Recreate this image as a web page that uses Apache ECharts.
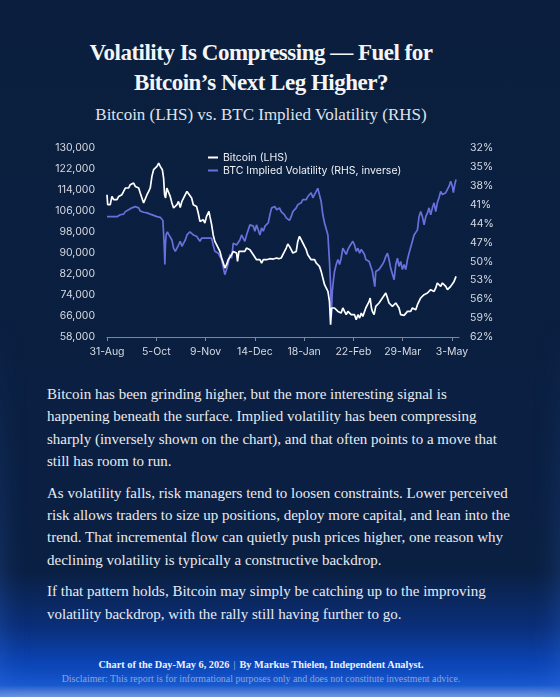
<!DOCTYPE html>
<html>
<head>
<meta charset="utf-8">
<script src="https://cdn.jsdelivr.net/npm/echarts@6/dist/echarts.min.js"></script>
<style>
  html, body { margin: 0; padding: 0; }
  body {
    width: 560px; height: 697px; overflow: hidden; position: relative;
    background: linear-gradient(180deg, #0b1e3d 0%, #0a2043 82%, #0a2f7a 90%, #0b44b4 95%, #1656cc 98.3%, #7d9fe0 100%);
    font-family: "Liberation Serif", serif;
  }
  .glow { position: absolute; left: 0; top: 0; width: 560px; height: 697px;
    box-shadow: inset 0 0 28px rgba(55, 115, 225, 0.45);
    -webkit-mask-image: linear-gradient(to bottom, rgba(0,0,0,0) 45%, rgba(0,0,0,1) 100%);
    mask-image: linear-gradient(to bottom, rgba(0,0,0,0) 45%, rgba(0,0,0,1) 100%); }
  .title { position: absolute; left: 0; width: 522px; top: 38px; text-align: center;
    color: #f4f5f7; font-size: 23px; line-height: 30px; font-weight: bold; letter-spacing: -0.5px; }
  .subtitle { position: absolute; left: 0; width: 522px; top: 104px; text-align: center;
    color: #dfe3ea; font-size: 17px; line-height: 22px; }
  #chart { position: absolute; left: 0; top: 130px; width: 560px; height: 240px; }
  .body { position: absolute; left: 47px; top: 383px; color: #e9ebef; font-size: 15px; line-height: 22.3px; white-space: nowrap; }
  .body p { margin: 0 0 9.5px 0; }
  .foot { position: absolute; left: 0; width: 522px; top: 658px; text-align: center;
    color: #eef1f7; font-size: 10.3px; line-height: 14px; font-weight: bold; }
  .foot .sep { font-weight: normal; color: #b8c4dc; padding: 0 4px; }
  .disc { position: absolute; left: 0; width: 522px; top: 672px; text-align: center;
    color: #8ea6d8; font-size: 9.9px; line-height: 13px; }
</style>
</head>
<body>
<div class="glow"></div>
<div class="title">Volatility Is Compressing — Fuel for<br>Bitcoin’s Next Leg Higher?</div>
<div class="subtitle">Bitcoin (LHS) vs. BTC Implied Volatility (RHS)</div>
<div id="chart"></div>
<div class="body">
  <p>Bitcoin has been grinding higher, but the more interesting signal is<br>
  happening beneath the surface. Implied volatility has been compressing<br>
  sharply (inversely shown on the chart), and that often points to a move that<br>
  still has room to run.</p>
  <p>As volatility falls, risk managers tend to loosen constraints. Lower perceived<br>
  risk allows traders to size up positions, deploy more capital, and lean into the<br>
  trend. That incremental flow can quietly push prices higher, one reason why<br>
  declining volatility is typically a constructive backdrop.</p>
  <p>If that pattern holds, Bitcoin may simply be catching up to the improving<br>
  volatility backdrop, with the rally still having further to go.</p>
</div>
<div class="foot">Chart of the Day-May 6, 2026<span class="sep">|</span>By Markus Thielen, Independent Analyst.</div>
<div class="disc">Disclaimer: This report is for informational purposes only and does not constitute investment advice.</div>

<script>
// days since 31-Aug-2025
var xTickLabels = ['31-Aug', '5-Oct', '9-Nov', '14-Dec', '18-Jan', '22-Feb', '29-Mar', '3-May'];
var xTickDays = [0, 35, 70, 105, 140, 175, 210, 245];

var btcDays = [0, 0.5, 2.3, 3.5, 4.7, 5.9, 7.1, 8.3, 9.4, 10.6, 11.8, 13, 14.2, 15.4, 16.5, 17.7, 18.9, 20.1, 21.3, 22.5,
  23.6, 24.8, 26, 27.2, 28.4, 29.6, 30.7, 31.9, 33.1, 34.3, 35.5, 36.7, 37.4, 37.8, 38.5, 39.3, 40.2, 40.9, 41.6, 42.5,
  43.7, 44.9, 46.1, 47.3, 48.5, 49.7, 50.8, 52, 53.2, 54.4, 55.6, 56.8, 58, 60.1, 61.3, 62.4, 63.6, 64.8, 66, 67.2,
  68.3, 69.5, 70.7, 72.4, 73.1, 74.3, 75.4, 76.6, 77.8, 79, 80.2, 81.4, 82.6, 83.7, 84.9, 86.1, 87.3, 88.5, 89.7, 90.9,
  92, 92.7, 93.7, 94.4, 95.6, 96.7, 97.9, 99.1, 100.3, 101.5, 102.7, 103.9, 105, 106.2, 107.4, 108.6, 109.8, 111, 112.2, 113.3,
  114.5, 115.7, 116.9, 118.1, 119.3, 120.5, 122, 123.7, 124.9, 126.1, 127.3, 128.4, 129.6, 130.8, 132, 133.2, 134.4, 135.5, 136.7, 137.9,
  139.1, 140.3, 141.5, 142.6, 143.8, 145, 146.2, 147.4, 148.6, 149.7, 150.9, 152.1, 153.3, 154.5, 155.7, 156.9, 158, 158.8, 159.5, 160.4,
  161.6, 162.8, 164, 165.2, 166.3, 167.5, 168.7, 169.9, 171.1, 172.3, 173.4, 174.6, 175.8, 177, 178.2, 179.4, 180.6, 181.7, 182.6, 183.8,
  185, 186.2, 186.9, 187.8, 188.5, 189.7, 190.9, 192.1, 193.2, 194.4, 195.6, 196.8, 198, 199.2, 200.3, 201.5, 202.7, 203.9, 205.1, 206.3,
  207.4, 208.6, 209.8, 211, 212.2, 213.4, 214.5, 215.7, 216.9, 218.1, 219.3, 220.5, 221.6, 222.8, 224, 225.2, 226.4, 227.6, 228.7, 229.9,
  231.1, 232.3, 233.5, 234.6, 235.8, 237, 238.2, 239.4, 240.6, 241.8, 242.9, 244.1, 245.3, 246.5, 247.9];
var btcPrice = [112200, 108400, 108400, 111560, 110300, 110950, 110300, 111560, 110950, 112200, 113470, 114760, 115370, 114760, 116020, 115370, 116650, 115370, 116020, 114760,
  112860, 110950, 109050, 109660, 112200, 113470, 114760, 119190, 121730, 122380, 123000, 124280, 124900, 123000, 123650, 121730, 118570, 112200, 110950, 114760,
  114130, 111560, 109050, 107140, 106500, 108400, 109660, 107370, 109660, 110300, 112200, 113470, 114130, 110950, 108400, 109050, 107760, 105240, 102040, 101430,
  102690, 101430, 103940, 105850, 103940, 100780, 96970, 94420, 93160, 92510, 90610, 88100, 86190, 84290, 85540, 87450, 88100, 89350, 90610, 91260,
  90000, 86800, 90610, 90000, 90610, 91260, 90610, 91900, 91900, 91260, 90610, 89350, 88700, 87450, 86800, 87450, 86190, 87450, 88100, 87450,
  87450, 87830, 87450, 87700, 87450, 88100, 87800, 88100, 88700, 90610, 91900, 93430, 92510, 91260, 90000, 89350, 90610, 94420, 96330, 95070,
  93810, 92510, 91260, 89350, 88700, 87450, 86800, 87450, 86190, 85540, 84900, 83000, 80480, 77920, 77280, 75370, 71560, 62690, 69050, 69660,
  69050, 69660, 67750, 68400, 67140, 69050, 67750, 66500, 67750, 68400, 66500, 67140, 66500, 64590, 66500, 65240, 67140, 65850, 66500, 69050,
  68400, 71560, 72860, 69050, 67750, 66500, 69660, 70300, 70950, 71560, 72860, 73470, 74760, 72860, 70950, 71560, 69660, 69050, 70950, 70300,
  69050, 66500, 65850, 66240, 66500, 67750, 67140, 67750, 69050, 69660, 68400, 70300, 71560, 72860, 72210, 74110, 73470, 74760, 74110, 76020,
  76670, 75370, 76670, 78570, 77920, 77280, 78570, 77920, 77280, 76020, 76670, 77280, 77920, 79180, 81100];

var volDays = [0, 1.2, 2.3, 3.5, 4.7, 5.9, 7.1, 8.3, 9.4, 10.6, 11.8, 13, 14.2, 15.4, 16.5, 17.7, 18.9, 20.1, 21.3, 22.5,
  23.6, 24.8, 26, 27.2, 28.4, 29.6, 30.7, 31.9, 33.1, 34.3, 35.5, 36.7, 37.8, 39, 39.7, 40.2, 40.6, 41.1, 41.5, 42,
  42.9, 43.8, 44.9, 46.1, 47.3, 48.5, 49.7, 50.8, 52, 53.2, 54.4, 55.6, 56.8, 57.7, 58.9, 60.1, 61.3, 62.4, 63.6, 64.8,
  66, 67.2, 68.3, 69.5, 70.7, 71.9, 73.1, 74.3, 75.4, 76.6, 77.8, 79, 80.2, 81.4, 82.6, 83.7, 84.9, 86.1, 87.3, 88.5,
  89.7, 90.9, 92, 93.2, 94.4, 95.6, 96.7, 97.9, 99.1, 100.3, 101.5, 102.7, 103.9, 105, 106.2, 107.4, 108.6, 109.8, 111, 112.2,
  113.3, 114.5, 115.7, 116.9, 118.1, 119.3, 120.5, 121.3, 122.5, 123.7, 124.9, 126.1, 127.3, 128.4, 129.6, 130.8, 132, 133.2, 134.4, 135.5,
  136.7, 137.9, 139.1, 140.3, 141.5, 142.6, 143.8, 145, 146.2, 147.4, 148.6, 149.7, 150.9, 152.1, 153.3, 154.5, 155.7, 156.9, 158, 158.8,
  159.3, 160, 161, 161.6, 162.8, 164, 165.2, 166.3, 167.5, 168.7, 169.9, 171.1, 172.3, 173.4, 174.6, 175.8, 177, 178.2, 179.4, 180.6,
  181.7, 182.9, 183.8, 185, 186.2, 187.3, 188.5, 189.2, 190.2, 190.9, 192.1, 193.2, 194.4, 195.6, 196.8, 198, 199.2, 200.3, 201.5, 202.7,
  203.9, 205.1, 206.3, 207.4, 208.6, 209.8, 211, 212.2, 213.4, 214.5, 215.7, 216.9, 218.1, 219.3, 220.5, 221.6, 222.8, 224, 225.2, 226.4,
  227.6, 228.7, 229.9, 231.1, 232.3, 233.5, 234.6, 235.8, 237, 238.2, 239.4, 240.6, 241.8, 242.9, 244.1, 245.3, 246, 247, 247.9];
var volPct = [42.9, 43.2, 42.9, 43.0, 42.9, 43.0, 42.9, 42.8, 42.6, 42.3, 42.5, 42.1, 42.2, 41.8, 41.7, 41.5, 41.5, 41.3, 41.2, 41.5,
  42.0, 42.3, 42.2, 42.3, 42.3, 42.4, 42.5, 42.6, 42.7, 42.8, 42.9, 43.0, 43.0, 43.1, 43.5, 43.7, 47.3, 50.5, 47.3, 45.8,
  45.3, 45.7, 46.0, 46.6, 47.9, 48.4, 48.4, 47.4, 46.8, 47.6, 47.1, 46.6, 45.8, 45.5, 45.3, 45.5, 45.8, 45.5, 46.0, 46.3,
  46.8, 46.3, 46.6, 46.3, 46.0, 46.3, 46.6, 46.3, 47.4, 48.4, 48.1, 48.7, 49.2, 49.7, 51.0, 52.1, 51.3, 50.3, 48.9, 49.5,
  47.1, 46.8, 47.4, 47.1, 46.6, 45.8, 46.3, 46.8, 45.8, 45.5, 44.2, 43.9, 44.4, 45.2, 44.2, 45.0, 45.8, 44.7, 45.2, 44.4,
  44.2, 43.9, 42.6, 41.5, 41.8, 41.3, 41.8, 41.8, 41.5, 42.1, 41.8, 42.6, 43.1, 43.4, 43.5, 42.9, 42.1, 41.8, 41.5, 41.0,
  41.3, 40.7, 40.2, 39.9, 40.2, 39.7, 39.4, 39.1, 39.9, 39.4, 38.9, 38.4, 38.3, 40.5, 42.6, 43.9, 44.2, 45.8, 50.0, 53.7,
  58.7, 54.8, 52.6, 51.6, 50.5, 49.7, 50.5, 49.5, 47.9, 48.4, 48.9, 48.1, 47.6, 47.9, 46.8, 47.4, 48.4, 47.9, 48.7, 48.1,
  47.9, 48.9, 49.7, 49.5, 50.0, 50.3, 51.6, 52.6, 54.0, 51.6, 51.3, 51.3, 51.1, 50.5, 50.0, 49.2, 48.7, 49.7, 51.1, 51.3,
  52.9, 50.5, 49.5, 50.8, 50.0, 51.3, 50.5, 51.3, 49.7, 48.7, 48.4, 46.8, 45.8, 46.0, 45.0, 42.9, 42.1, 42.9, 44.2, 42.9,
  42.3, 41.5, 42.6, 41.5, 40.7, 42.1, 40.7, 39.9, 38.9, 39.4, 39.4, 39.1, 38.9, 38.1, 37.3, 38.1, 39.1, 37.8, 37.0];

function pairs(xs, ys) {
  return xs.map(function (x, i) { return [x, ys[i]]; });
}

var axisFont = 'Inter, "DejaVu Sans", sans-serif';
var myChart = echarts.init(document.getElementById('chart'));
var option = {
  animation: false,
  grid: { left: 107, right: 101, top: 18, height: 189 },
  legend: {
    orient: 'vertical',
    left: 208, top: 22, padding: 0,
    itemWidth: 10, itemHeight: 2, itemGap: 2,
    icon: 'rect',
    textStyle: { color: '#eef0f4', fontSize: 10.5, fontFamily: axisFont },
    data: ['Bitcoin (LHS)', 'BTC Implied Volatility (RHS, inverse)']
  },
  xAxis: {
    type: 'value', min: 0, max: 250, interval: 35,
    splitLine: { show: false },
    axisLine: { show: true, lineStyle: { color: '#7e8796', width: 1 } },
    axisTick: { show: true, length: 4, lineStyle: { color: '#7e8796' }, customValues: xTickDays },
    axisLabel: {
      color: '#d6dae2', fontSize: 10.5, fontFamily: axisFont, margin: 9,
      customValues: xTickDays,
      formatter: function (v) {
        var i = xTickDays.indexOf(v);
        return i >= 0 ? xTickLabels[i] : '';
      }
    }
  },
  yAxis: [{
    type: 'value', min: 58000, max: 130000, interval: 8000,
    splitLine: { show: false },
    axisLine: { show: false }, axisTick: { show: false },
    axisLabel: {
      color: '#d6dae2', fontSize: 10.5, fontFamily: axisFont, margin: 12,
      formatter: function (v) { return v.toLocaleString('en-US'); }
    }
  }, {
    type: 'value', min: 32, max: 62, interval: 3, inverse: true, position: 'right',
    splitLine: { show: false },
    axisLine: { show: false }, axisTick: { show: false },
    axisLabel: {
      color: '#d6dae2', fontSize: 10.5, fontFamily: axisFont, margin: 11,
      formatter: function (v) { return v + '%'; }
    }
  }],
  series: [{
    name: 'Bitcoin (LHS)', type: 'line', yAxisIndex: 0,
    showSymbol: false, symbol: 'none', z: 3,
    lineStyle: { color: '#ffffff', width: 1.7 },
    itemStyle: { color: '#ffffff' },
    data: pairs(btcDays, btcPrice)
  }, {
    name: 'BTC Implied Volatility (RHS, inverse)', type: 'line', yAxisIndex: 1,
    showSymbol: false, symbol: 'none', z: 2,
    lineStyle: { color: '#6b6fdc', width: 1.7 },
    itemStyle: { color: '#6b6fdc' },
    data: pairs(volDays, volPct)
  }]
};
myChart.setOption(option);
</script>
</body>
</html>
